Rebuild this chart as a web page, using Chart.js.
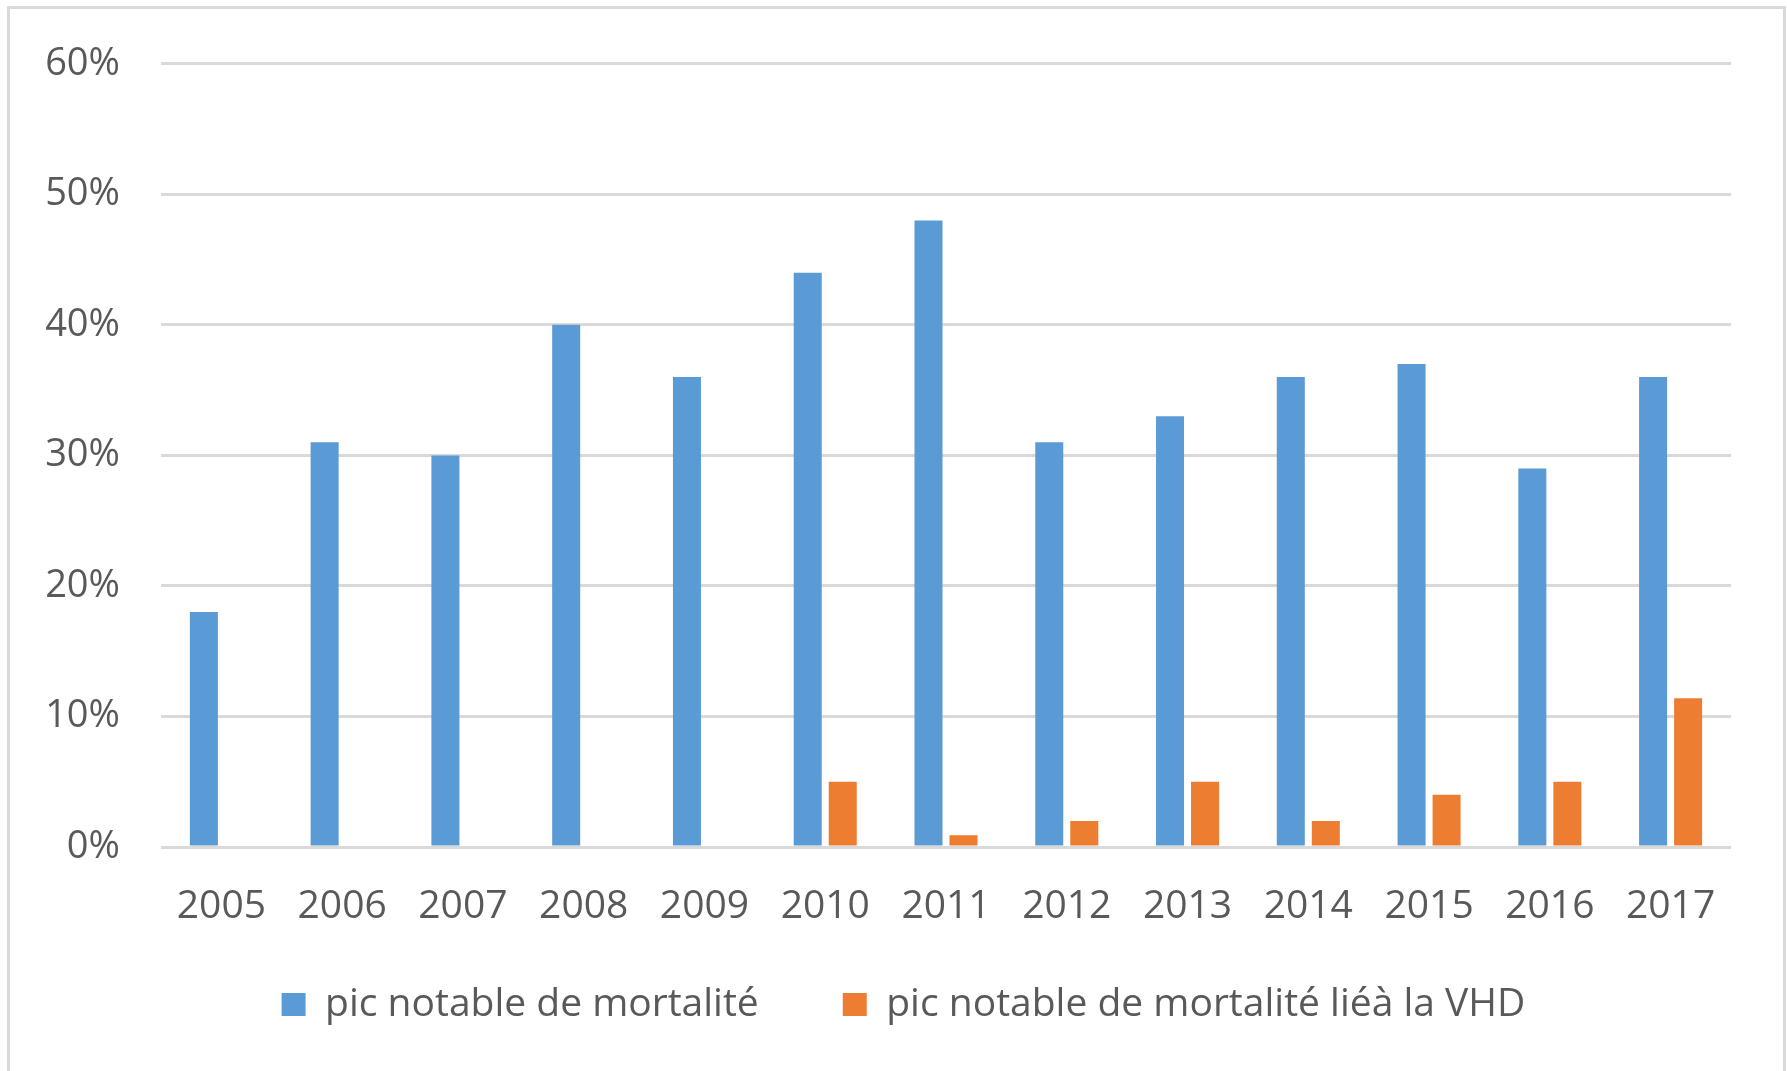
<!DOCTYPE html>
<html>
<head>
<meta charset="utf-8">
<script src="https://cdn.jsdelivr.net/npm/chart.js@4.4.0/dist/chart.umd.min.js"></script>
<style>
    html, body { margin: 0; padding: 0; background: #fff; overflow: hidden; }
    .frame {
        position: absolute; left: 7px; top: 6px;
        width: 1773px; height: 1100px;
        border: 3px solid #d9d9d9;
    }
    .chart-box { position: absolute; left: 0; top: 0; width: 1787px; height: 1071px; }
</style>
</head>
<body>
<div class="frame"></div>
<div class="chart-box"><canvas id="mortalityChart"></canvas></div>
<script>
const years = ['2005', '2006', '2007', '2008', '2009', '2010', '2011', '2012', '2013', '2014', '2015', '2016', '2017'];
const picMortalite = [18, 31, 30, 40, 36, 44, 48, 31, 33, 36, 37, 29, 36];
const picMortaliteVHD = [0, 0, 0, 0, 0, 5, 0.9, 2, 5, 2, 4, 5, 11.4];
const yTicks = [0, 10, 20, 30, 40, 50, 60];
const seriesNames = ['pic notable de mortalité', 'pic notable de mortalité liéà la VHD'];

const textColor = '#595959';
const gridColor = '#d9d9d9';
const fontFamily = '"Open Sans", sans-serif';

// Excel puts its legend a bit right of the canvas middle and closer to the axis
const legendShift = {
    id: 'legendShift',
    afterLayout(chart) {
        const lg = chart.legend;
        lg.left += 76;
        lg.top -= 31;
        lg.bottom -= 31;
    }
};

const ctx = document.getElementById('mortalityChart').getContext('2d');

new Chart(ctx, {
    type: 'bar',
    data: {
        labels: years,
        datasets: [
            {
                label: seriesNames[0],
                data: picMortalite,
                backgroundColor: '#5b9bd5',
                barPercentage: 0.8,
                categoryPercentage: 0.58
            },
            {
                label: seriesNames[1],
                data: picMortaliteVHD,
                backgroundColor: '#ed7d31',
                barPercentage: 0.8,
                categoryPercentage: 0.58
            }
        ]
    },
    options: {
        responsive: true,
        maintainAspectRatio: false,
        animation: false,
        layout: { padding: { left: 0, right: 56, top: 61, bottom: 6 } },
        plugins: {
            tooltip: { enabled: false },
            legend: {
                position: 'bottom',
                labels: {
                    boxWidth: 24,
                    boxHeight: 23,
                    padding: 84,
                    color: textColor,
                    font: { family: fontFamily, size: 39 }
                }
            }
        },
        scales: {
            x: {
                grid: { display: false, drawTicks: false },
                border: { display: false },
                ticks: {
                    color: textColor,
                    padding: 36,
                    maxRotation: 0,
                    font: { family: fontFamily, size: 39 }
                },
                afterFit: scale => { scale.height = 85; }
            },
            y: {
                min: 0,
                max: 60,
                afterBuildTicks: scale => { scale.ticks = yTicks.map(v => ({ value: v })); },
                grid: { color: gridColor, lineWidth: 3, drawTicks: false },
                border: { display: false },
                ticks: {
                    color: textColor,
                    padding: 41,
                    font: { family: fontFamily, size: 38 },
                    callback: v => v + '%'
                },
                afterFit: scale => { scale.width = 161; }
            }
        }
    },
    plugins: [legendShift]
});
</script>
</body>
</html>
